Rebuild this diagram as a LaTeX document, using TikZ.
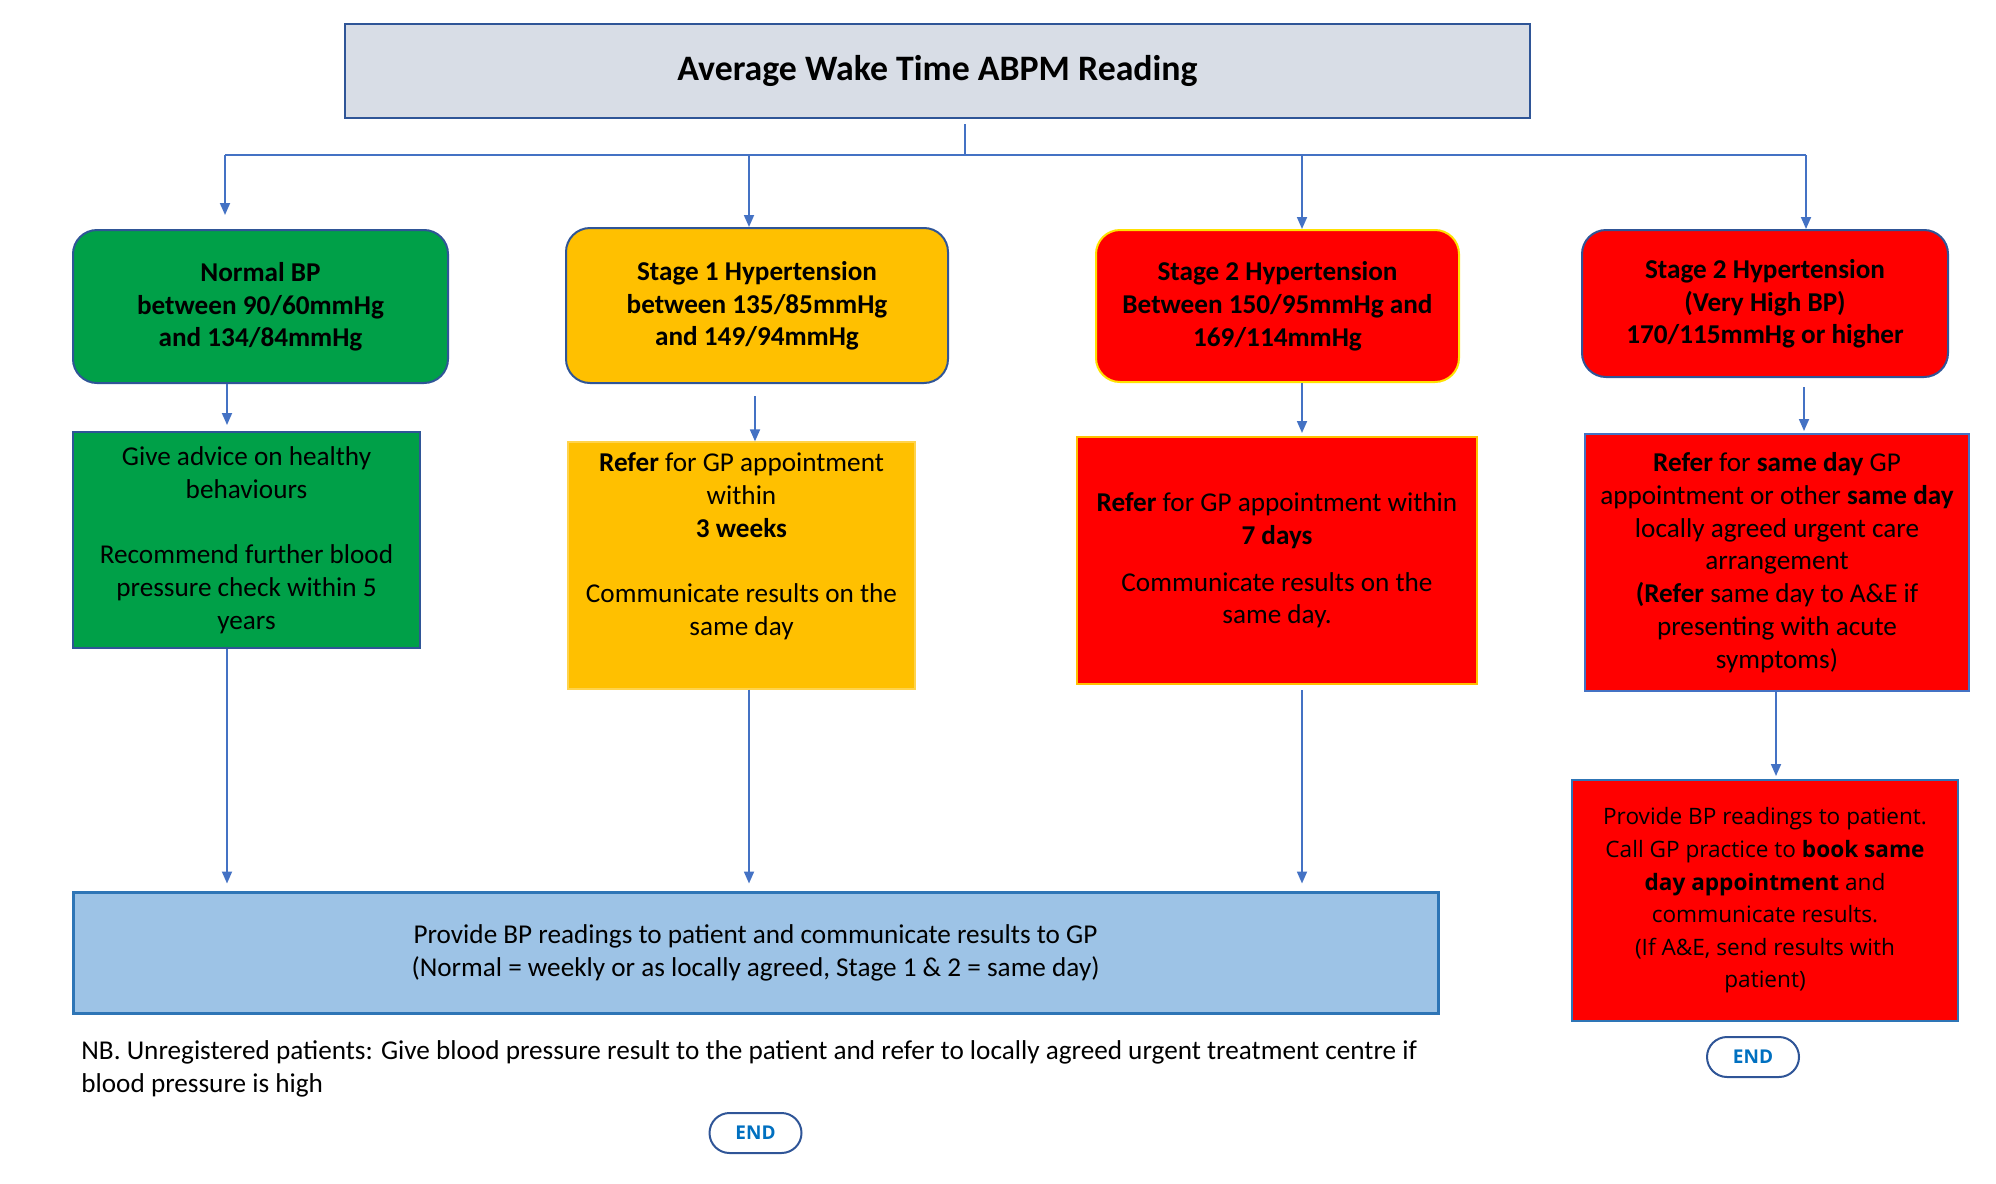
\documentclass[tikz,border=0pt]{standalone}
\usepackage{fontspec}
\setmainfont{Carlito}
\newfontfamily\segoe{Open Sans}
\usetikzlibrary{arrows.meta}

\definecolor{bgreen}{RGB}{0,160,72}
\definecolor{byellow}{RGB}{255,192,0}
\definecolor{bred}{RGB}{255,0,0}
\definecolor{titlefill}{RGB}{216,221,230}
\definecolor{bluefill}{RGB}{157,195,230}
\definecolor{darkblue}{RGB}{47,85,151}
\definecolor{midblue}{RGB}{68,114,196}
\definecolor{lineblue}{RGB}{46,117,182}
\definecolor{endblue}{RGB}{0,112,192}
\definecolor{brightyellow}{RGB}{255,225,0}

\begin{document}
\begin{tikzpicture}[x=0.5pt,y=-0.5pt,
  base/.style={draw, line width=1pt, align=center, inner sep=0pt, font=\fontsize{13.6}{16.4}\selectfont},
  rbox/.style={base, rounded corners=12pt, font=\bfseries\fontsize{13.6}{16.4}\selectfont, text depth=2pt},
  arr/.style={draw=midblue, line width=0.9pt, -{Triangle[width=5pt,length=6pt]}},
  ln/.style={draw=midblue, line width=0.9pt},
  endpill/.style={draw=darkblue, line width=1pt, rounded corners=10pt, minimum width=46pt, minimum height=20pt, font=\segoe\bfseries\fontsize{9.5}{11}\selectfont, text=endblue, inner sep=0pt}
]
\useasboundingbox (0,0) rectangle (1996,1183);

% title
\node[base, fill=titlefill, draw=darkblue, minimum width=592.5pt, minimum height=47pt,
      font=\bfseries\fontsize{17.9}{21}\selectfont] (title) at (937.5,71) {Average Wake Time ABPM Reading};

% row 1
\node[rbox, fill=bgreen, draw=darkblue, minimum width=187.5pt, minimum height=76.5pt] (n1) at (260.5,306.5)
  {Normal BP\\between 90/60mmHg\\and 134/84mmHg};
\node[rbox, fill=byellow, draw=darkblue, minimum width=191pt, minimum height=77.5pt] (n2) at (757,305.5)
  {Stage 1 Hypertension\\between 135/85mmHg\\and 149/94mmHg};
\node[rbox, fill=bred, draw=brightyellow, minimum width=181.5pt, minimum height=76pt] (n3) at (1277.5,306)
  {Stage 2 Hypertension\\Between 150/95mmHg and\\169/114mmHg};
\node[rbox, fill=bred, draw=darkblue, minimum width=183pt, minimum height=73.5pt] (n4) at (1765,303.5)
  {Stage 2 Hypertension\\(Very High BP)\\170/115mmHg or higher};

% row 2
\node[base, fill=bgreen, draw=darkblue, minimum width=173.5pt, minimum height=108pt] (m1) at (246.5,540)
  {Give advice on healthy\\behaviours\\[16.4pt]Recommend further blood\\pressure check within 5\\years};
\node[base, fill=byellow, draw=byellow!70!white, line width=0.6pt, minimum width=173.5pt, minimum height=123.5pt] (m2) at (741.5,565.5)
  {\textbf{Refer} for GP appointment\\within\\\textbf{3 weeks}\\[16.4pt]Communicate results on the\\same day\\\strut};
\node[base, fill=bred, draw=byellow, minimum width=200pt, minimum height=123.5pt] (m3) at (1277,560.5)
  {\textbf{Refer} for GP appointment within\\\textbf{7 days}\\[7pt]Communicate results on the\\same day.};
\node[base, fill=bred, draw=midblue, minimum width=192pt, minimum height=128.5pt] (m4) at (1777,562.5)
  {\textbf{Refer} for \textbf{same day} GP\\appointment or other \textbf{same day}\\locally agreed urgent care\\arrangement\\\textbf{(Refer} same day to A\&E if\\presenting with acute\\symptoms)};

% red 3
\node[base, fill=bred, draw=lineblue, minimum width=193pt, minimum height=120.5pt,
      font=\segoe\fontsize{11.3}{16.3}\selectfont] (r5) at (1765,900.5)
  {Provide BP readings to patient.\\Call GP practice to \textbf{book same}\\\textbf{day appointment} and\\communicate results.\\(If A\&E, send results with\\patient)};

% bottom
\node[base, fill=bluefill, draw=lineblue, line width=1.5pt, minimum width=682.5pt, minimum height=60.5pt] (bot) at (755.5,952.5)
  {Provide BP readings to patient and communicate results to GP\\(Normal = weekly or as locally agreed, Stage 1 \& 2 = same day)};

% note
\node[anchor=west, align=left, inner sep=0pt, font=\fontsize{13.6}{16.2}\selectfont] (nb) at (81,1069)
  {NB. Unregistered patients: Give blood pressure result to the patient and refer to locally agreed urgent treatment centre if\\blood pressure is high};

% ends
\node[endpill] (e1) at (755.5,1133) {END};
\node[endpill] (e2) at (1753,1057) {END};

% connectors
\coordinate (j) at (965,155);
\coordinate (b1) at (225,155);
\coordinate (b2) at (749,155);
\coordinate (b3) at (1302,155);
\coordinate (b4) at (1806,155);
\draw[ln, shorten <=2.5pt] (title.south -| j) -- (j);
\draw[ln] (b1) -- (b4);
\draw[arr, shorten >=7pt] (b1) -- (n1.north -| b1);
\draw[arr] (b2) -- (n2.north -| b2);
\draw[arr] (b3) -- (n3.north -| b3);
\draw[arr] (b4) -- (n4.north -| b4);

\coordinate (c1) at (227,0);
\coordinate (c2) at (755,0);
\coordinate (c3) at (1302,0);
\coordinate (c4) at (1804,0);
\draw[arr, shorten >=3pt] (n1.south -| c1) -- (m1.north -| c1);
\draw[arr, shorten <=6pt] (n2.south -| c2) -- (m2.north -| c2);
\draw[arr, shorten >=1.5pt] (n3.south -| c3) -- (m3.north -| c3);
\draw[arr, shorten <=4.5pt, shorten >=1pt] (n4.south -| c4) -- (m4.north -| c4);

\coordinate (d1) at (227,0);
\coordinate (d2) at (749,0);
\coordinate (d3) at (1302,0);
\coordinate (d4) at (1776,0);
\draw[arr, shorten >=3.5pt] (m1.south -| d1) -- (bot.north -| d1);
\draw[arr, shorten >=3.5pt] (m2.south -| d2) -- (bot.north -| d2);
\draw[arr, shorten <=2.5pt, shorten >=3.5pt] (m3.south -| d3) -- (bot.north -| d3);
\draw[arr, shorten >=1.5pt] (m4.south -| d4) -- (r5.north -| d4);
\end{tikzpicture}
\end{document}
